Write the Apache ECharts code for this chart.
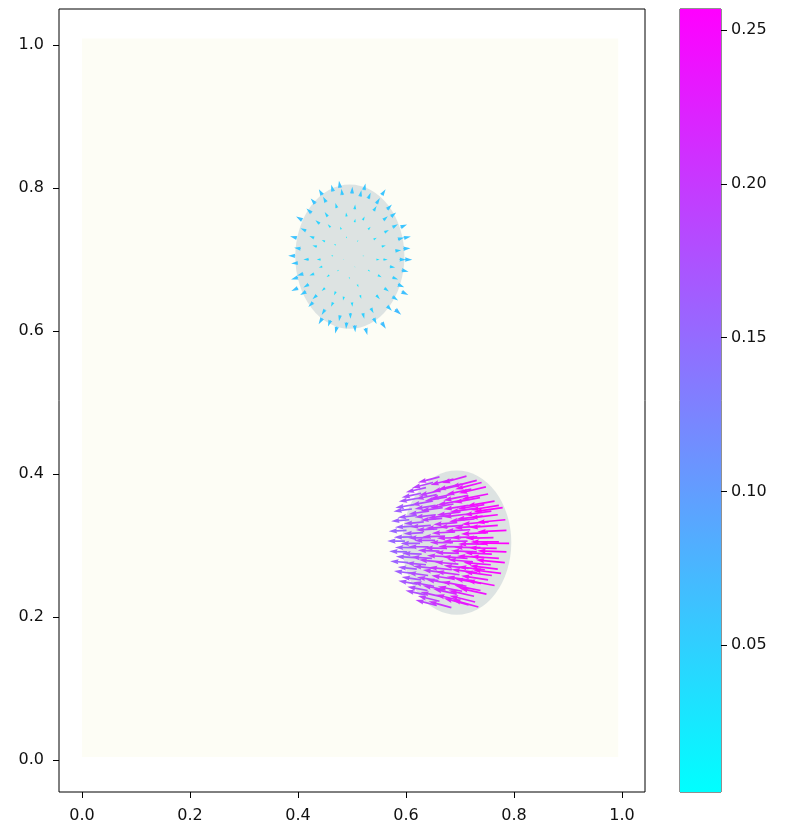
<!DOCTYPE html>
<html>
<head>
<meta charset="utf-8">
<script src="https://cdn.jsdelivr.net/npm/echarts@6/dist/echarts.min.js"></script>
<style>
  html, body { margin: 0; padding: 0; background: #fff; }
  #chart { width: 786px; height: 826px; }
</style>
</head>
<body>
<div id="chart"></div>
<script>
// axes ticks
var xTicks = [0, 0.2, 0.4, 0.6, 0.8, 1.0];
var yTicks = [0, 0.2, 0.4, 0.6, 0.8, 1.0];
var cbTicks = [0.05, 0.10, 0.15, 0.20, 0.25];
var cbRange = [0.0023, 0.2568];

// particle domain [x0, y0, x1, y1] and the two discs [cx, cy, r]
var domain = [[0, 0.004, 0.993, 1.009]];
var discs = [[0.496, 0.704, 0.101], [0.694, 0.304, 0.101]];

// arrows [x, y, u, v] - upper disc (slow, radial)
var arrowsUpper = [
  [0.465, 0.795, -0.016, 0.058], [0.482, 0.790, -0.008, 0.056], [0.500, 0.792, 0.003, 0.060],
  [0.515, 0.788, 0.011, 0.055], [0.530, 0.785, 0.021, 0.052], [0.545, 0.778, 0.031, 0.049],
  [0.452, 0.780, -0.026, 0.049], [0.472, 0.772, -0.013, 0.044], [0.505, 0.770, 0.004, 0.043],
  [0.540, 0.768, 0.026, 0.042], [0.425, 0.765, -0.044, 0.039], [0.440, 0.750, -0.036, 0.031],
  [0.415, 0.740, -0.049, 0.023], [0.460, 0.745, -0.023, 0.026], [0.558, 0.755, 0.039, 0.034],
  [0.575, 0.745, 0.047, 0.026], [0.585, 0.728, 0.055, 0.016], [0.530, 0.742, 0.021, 0.023],
  [0.520, 0.755, 0.016, 0.032], [0.405, 0.715, -0.057, 0.008], [0.400, 0.695, -0.060, -0.005],
  [0.410, 0.680, -0.055, -0.016], [0.420, 0.700, -0.047, 0.000], [0.435, 0.718, -0.039, 0.010],
  [0.445, 0.690, -0.031, -0.008], [0.588, 0.700, 0.057, -0.003], [0.592, 0.685, 0.060, -0.013],
  [0.580, 0.712, 0.052, 0.006], [0.570, 0.690, 0.047, -0.008], [0.555, 0.718, 0.036, 0.009],
  [0.545, 0.700, 0.029, -0.003], [0.470, 0.720, -0.016, 0.010], [0.490, 0.730, -0.004, 0.016],
  [0.510, 0.725, 0.008, 0.013], [0.485, 0.700, -0.007, -0.002], [0.505, 0.690, 0.005, -0.008],
  [0.520, 0.705, 0.013, 0.000], [0.475, 0.685, -0.013, -0.010], [0.495, 0.675, 0.000, -0.017],
  [0.530, 0.685, 0.018, -0.012], [0.420, 0.665, -0.047, -0.026], [0.435, 0.650, -0.039, -0.034],
  [0.415, 0.655, -0.052, -0.029], [0.450, 0.660, -0.029, -0.026], [0.560, 0.660, 0.039, -0.029],
  [0.575, 0.648, 0.049, -0.034], [0.585, 0.665, 0.055, -0.023], [0.545, 0.650, 0.031, -0.034],
  [0.565, 0.635, 0.042, -0.042], [0.450, 0.630, -0.029, -0.047], [0.465, 0.640, -0.018, -0.039],
  [0.478, 0.622, -0.010, -0.052], [0.490, 0.612, -0.005, -0.057], [0.505, 0.608, 0.005, -0.060],
  [0.520, 0.625, 0.013, -0.049], [0.535, 0.632, 0.023, -0.044], [0.500, 0.640, 0.003, -0.039],
  [0.485, 0.648, -0.008, -0.034], [0.515, 0.650, 0.010, -0.031], [0.540, 0.618, 0.026, -0.052],
  [0.460, 0.615, -0.021, -0.055], [0.490, 0.760, -0.005, 0.036], [0.455, 0.760, -0.026, 0.039],
  [0.565, 0.770, 0.042, 0.042], [0.430, 0.730, -0.042, 0.018], [0.595, 0.715, 0.062, 0.005],
  [0.400, 0.675, -0.060, -0.018], [0.575, 0.675, 0.049, -0.018], [0.430, 0.680, -0.042, -0.016],
  [0.470, 0.655, -0.016, -0.031], [0.478, 0.800, -0.010, 0.062], [0.522, 0.797, 0.014, 0.058],
  [0.445, 0.790, -0.030, 0.052], [0.555, 0.790, 0.034, 0.050], [0.432, 0.778, -0.040, 0.046],
  [0.572, 0.760, 0.046, 0.036], [0.408, 0.755, -0.054, 0.032], [0.590, 0.745, 0.056, 0.024],
  [0.398, 0.730, -0.060, 0.016], [0.596, 0.730, 0.061, 0.014], [0.450, 0.725, -0.028, 0.014],
  [0.540, 0.728, 0.027, 0.015], [0.465, 0.705, -0.019, 0.001], [0.558, 0.700, 0.038, -0.002],
  [0.395, 0.705, -0.062, 0.001], [0.598, 0.700, 0.064, -0.002], [0.400, 0.660, -0.058, -0.026],
  [0.592, 0.655, 0.058, -0.030], [0.428, 0.640, -0.042, -0.040], [0.580, 0.630, 0.052, -0.046],
  [0.445, 0.618, -0.032, -0.054], [0.555, 0.612, 0.036, -0.056], [0.472, 0.606, -0.015, -0.060],
  [0.525, 0.604, 0.016, -0.061], [0.497, 0.625, 0.001, -0.050], [0.510, 0.665, 0.009, -0.024],
  [0.458, 0.678, -0.024, -0.016], [0.548, 0.678, 0.032, -0.017], [0.480, 0.742, -0.010, 0.024],
  [0.505, 0.752, 0.005, 0.030], [0.442, 0.700, -0.034, -0.001], [0.560, 0.738, 0.040, 0.021]
];

// arrows [x, y, u, v] - lower disc (fast, moving left)
var arrowsLower = [
  [0.662, 0.396, -0.188, -0.050], [0.688, 0.393, -0.201, -0.052], [0.712, 0.397, -0.214, -0.060],
  [0.731, 0.391, -0.224, -0.057], [0.650, 0.388, -0.182, -0.047], [0.703, 0.386, -0.209, -0.050],
  [0.740, 0.388, -0.230, -0.058], [0.637, 0.381, -0.175, -0.041], [0.664, 0.377, -0.189, -0.044],
  [0.692, 0.383, -0.204, -0.049], [0.721, 0.379, -0.219, -0.049], [0.748, 0.382, -0.234, -0.056],
  [0.628, 0.373, -0.170, -0.036], [0.657, 0.371, -0.185, -0.038], [0.688, 0.372, -0.202, -0.042],
  [0.715, 0.370, -0.216, -0.044], [0.752, 0.372, -0.236, -0.047], [0.622, 0.366, -0.167, -0.029],
  [0.648, 0.362, -0.180, -0.034], [0.676, 0.368, -0.195, -0.036], [0.703, 0.363, -0.210, -0.037],
  [0.737, 0.367, -0.228, -0.043], [0.764, 0.362, -0.242, -0.042], [0.615, 0.357, -0.163, -0.026],
  [0.655, 0.356, -0.184, -0.030], [0.688, 0.358, -0.202, -0.033], [0.716, 0.356, -0.217, -0.034],
  [0.745, 0.357, -0.232, -0.037], [0.772, 0.356, -0.247, -0.039], [0.611, 0.351, -0.161, -0.021],
  [0.642, 0.348, -0.177, -0.026], [0.668, 0.353, -0.191, -0.028], [0.701, 0.347, -0.208, -0.028],
  [0.729, 0.352, -0.223, -0.033], [0.758, 0.348, -0.239, -0.033], [0.779, 0.353, -0.250, -0.036],
  [0.620, 0.342, -0.166, -0.019], [0.655, 0.343, -0.184, -0.022], [0.682, 0.342, -0.198, -0.023],
  [0.715, 0.344, -0.216, -0.026], [0.742, 0.341, -0.231, -0.026], [0.770, 0.343, -0.246, -0.029],
  [0.606, 0.336, -0.158, -0.013], [0.633, 0.333, -0.173, -0.017], [0.667, 0.338, -0.190, -0.018],
  [0.694, 0.332, -0.204, -0.017], [0.727, 0.337, -0.222, -0.021], [0.753, 0.333, -0.236, -0.020],
  [0.784, 0.336, -0.252, -0.024], [0.614, 0.327, -0.162, -0.010], [0.646, 0.328, -0.180, -0.013],
  [0.678, 0.326, -0.196, -0.013], [0.706, 0.328, -0.211, -0.015], [0.738, 0.327, -0.229, -0.016],
  [0.770, 0.328, -0.245, -0.018], [0.601, 0.321, -0.155, -0.007], [0.632, 0.318, -0.172, -0.010],
  [0.658, 0.323, -0.186, -0.009], [0.691, 0.319, -0.204, -0.011], [0.719, 0.322, -0.218, -0.010],
  [0.752, 0.318, -0.236, -0.013], [0.786, 0.321, -0.253, -0.012], [0.612, 0.312, -0.162, -0.004],
  [0.642, 0.311, -0.178, -0.004], [0.672, 0.313, -0.194, -0.005], [0.702, 0.311, -0.210, -0.005],
  [0.732, 0.312, -0.226, -0.006], [0.762, 0.311, -0.242, -0.006], [0.598, 0.306, -0.154, 0.001],
  [0.626, 0.303, -0.169, -0.001], [0.654, 0.307, -0.183, 0.000], [0.687, 0.304, -0.201, 0.001],
  [0.714, 0.306, -0.215, -0.001], [0.746, 0.302, -0.233, 0.001], [0.772, 0.305, -0.247, 0.000],
  [0.791, 0.303, -0.256, 0.001], [0.614, 0.297, -0.163, 0.002], [0.642, 0.298, -0.178, 0.002],
  [0.676, 0.296, -0.196, 0.003], [0.705, 0.298, -0.212, 0.003], [0.738, 0.297, -0.229, 0.003],
  [0.768, 0.296, -0.245, 0.004], [0.602, 0.291, -0.156, 0.005], [0.629, 0.288, -0.170, 0.007],
  [0.662, 0.292, -0.188, 0.008], [0.698, 0.289, -0.207, 0.007], [0.731, 0.291, -0.225, 0.009],
  [0.759, 0.288, -0.239, 0.011], [0.786, 0.291, -0.253, 0.010], [0.616, 0.283, -0.164, 0.010],
  [0.648, 0.282, -0.181, 0.011], [0.681, 0.284, -0.199, 0.012], [0.714, 0.282, -0.217, 0.014],
  [0.744, 0.283, -0.233, 0.015], [0.772, 0.282, -0.247, 0.016], [0.604, 0.276, -0.157, 0.013],
  [0.637, 0.273, -0.175, 0.016], [0.664, 0.277, -0.189, 0.018], [0.697, 0.274, -0.206, 0.017],
  [0.724, 0.277, -0.220, 0.021], [0.757, 0.273, -0.238, 0.020], [0.783, 0.276, -0.252, 0.024],
  [0.620, 0.267, -0.166, 0.017], [0.652, 0.268, -0.183, 0.019], [0.685, 0.266, -0.201, 0.022],
  [0.716, 0.268, -0.217, 0.024], [0.746, 0.266, -0.233, 0.026], [0.770, 0.267, -0.245, 0.028],
  [0.612, 0.261, -0.161, 0.020], [0.641, 0.258, -0.177, 0.024], [0.672, 0.262, -0.193, 0.024],
  [0.699, 0.259, -0.207, 0.028], [0.732, 0.262, -0.225, 0.028], [0.759, 0.258, -0.239, 0.032],
  [0.776, 0.261, -0.248, 0.031], [0.628, 0.252, -0.170, 0.024], [0.660, 0.251, -0.187, 0.028],
  [0.690, 0.253, -0.202, 0.030], [0.722, 0.251, -0.219, 0.033], [0.752, 0.252, -0.235, 0.036],
  [0.621, 0.246, -0.166, 0.029], [0.652, 0.243, -0.182, 0.034], [0.679, 0.247, -0.196, 0.034],
  [0.712, 0.243, -0.214, 0.039], [0.739, 0.247, -0.228, 0.040], [0.764, 0.244, -0.242, 0.045],
  [0.640, 0.237, -0.177, 0.033], [0.672, 0.238, -0.194, 0.037], [0.704, 0.236, -0.211, 0.041],
  [0.738, 0.237, -0.228, 0.045], [0.636, 0.231, -0.174, 0.037], [0.667, 0.228, -0.190, 0.043],
  [0.694, 0.232, -0.204, 0.044], [0.726, 0.229, -0.221, 0.050], [0.749, 0.232, -0.234, 0.051],
  [0.662, 0.222, -0.188, 0.046], [0.700, 0.223, -0.208, 0.051], [0.728, 0.221, -0.222, 0.055],
  [0.657, 0.216, -0.185, 0.049], [0.684, 0.213, -0.199, 0.055], [0.716, 0.217, -0.216, 0.057],
  [0.734, 0.214, -0.226, 0.062]
];

var pxPerUnit = 115;   // quiver scale, pixels per velocity unit
var shaftW = 1.7;      // arrow width in px

var arrowData = arrowsUpper.concat(arrowsLower).map(function (a) {
  return [a[0], a[1], a[2], a[3], Math.sqrt(a[2] * a[2] + a[3] * a[3])];
});

function renderArrow(params, api) {
  var p = api.coord([api.value(0), api.value(1)]);
  var dx = api.value(2) * pxPerUnit;
  var dy = -api.value(3) * pxPerUnit;
  var L = Math.sqrt(dx * dx + dy * dy);
  if (L < 0.3) return;
  var ux = dx / L, uy = dy / L, nx = -uy, ny = ux;
  var hl = 5 * shaftW, hal = 4.5 * shaftW, hw = 1.5 * shaftW, sw = 0.5 * shaftW;
  var Le = L, f = 1;
  if (L < hl) { f = L / hl; Le = hl; }   // short arrows are shrunk as a whole
  var pts = [[0, -sw], [Le - hal, -sw], [Le - hl, -hw], [Le, 0], [Le - hl, hw], [Le - hal, sw], [0, sw]];
  var out = pts.map(function (q) {
    var a = q[0] * f, b = q[1] * f;
    return [p[0] + ux * a + nx * b, p[1] + uy * a + ny * b];
  });
  return { type: 'polygon', shape: { points: out }, style: { fill: api.visual('color') } };
}

var chart = echarts.init(document.getElementById('chart'));
var font = 'DejaVu Sans';
var tickStyle = { show: true, length: 6, lineStyle: { color: '#000', width: 1 } };

var option = {
  animation: false,
  grid: [
    { left: 59, top: 9, width: 586, height: 783, show: true, borderColor: '#000', borderWidth: 1, backgroundColor: 'transparent' },
    { left: 680, top: 9, width: 41, height: 783, show: true, borderColor: '#222', borderWidth: 1, backgroundColor: 'transparent' }
  ],
  xAxis: [
    {
      type: 'value', gridIndex: 0, min: -0.0426, max: 1.0426,
      axisLine: { show: false, onZero: false },
      splitLine: { show: false },
      axisTick: Object.assign({ customValues: xTicks }, tickStyle),
      axisLabel: { customValues: xTicks, margin: 16, color: '#111', fontFamily: font, fontSize: 16,
        formatter: function (v) { return v.toFixed(1); } }
    },
    { type: 'value', gridIndex: 1, min: 0, max: 1, show: false }
  ],
  yAxis: [
    {
      type: 'value', gridIndex: 0, min: -0.0448, max: 1.0503,
      axisLine: { show: false, onZero: false },
      splitLine: { show: false },
      axisTick: Object.assign({ customValues: yTicks }, tickStyle),
      axisLabel: { customValues: yTicks, margin: 15, color: '#111', fontFamily: font, fontSize: 16,
        formatter: function (v) { return v.toFixed(1); } }
    },
    {
      type: 'value', gridIndex: 1, min: cbRange[0], max: cbRange[1], position: 'right',
      axisLine: { show: false, onZero: false },
      splitLine: { show: false },
      axisTick: Object.assign({ customValues: cbTicks }, tickStyle),
      axisLabel: { customValues: cbTicks, margin: 10, color: '#111', fontFamily: font, fontSize: 16,
        formatter: function (v) { return v.toFixed(2); } }
    }
  ],
  visualMap: {
    type: 'continuous', show: false, seriesIndex: 2, dimension: 4,
    min: cbRange[0], max: cbRange[1],
    inRange: { color: ['#00ffff', '#ff00ff'] }
  },
  series: [
    {
      type: 'custom', xAxisIndex: 0, yAxisIndex: 0, silent: true,
      data: domain,
      renderItem: function (params, api) {
        var a = api.coord([api.value(0), api.value(3)]);
        var b = api.coord([api.value(2), api.value(1)]);
        return { type: 'rect', shape: { x: a[0], y: a[1], width: b[0] - a[0], height: b[1] - a[1] },
          style: { fill: '#fdfdf5' } };
      }
    },
    {
      type: 'custom', xAxisIndex: 0, yAxisIndex: 0, silent: true,
      data: discs,
      renderItem: function (params, api) {
        var c = api.coord([api.value(0), api.value(1)]);
        var s = api.size([api.value(2), api.value(2)]);
        return { type: 'circle', x: c[0], y: c[1], scaleX: s[0], scaleY: s[1],
          shape: { cx: 0, cy: 0, r: 1 }, style: { fill: '#dde3e2' } };
      }
    },
    {
      type: 'custom', xAxisIndex: 0, yAxisIndex: 0, silent: true,
      data: arrowData,
      renderItem: renderArrow
    },
    {
      type: 'custom', xAxisIndex: 1, yAxisIndex: 1, silent: true,
      data: [[0, cbRange[0], 1, cbRange[1]]],
      renderItem: function (params, api) {
        var a = api.coord([api.value(0), api.value(3)]);
        var b = api.coord([api.value(2), api.value(1)]);
        return { type: 'rect', shape: { x: a[0], y: a[1], width: b[0] - a[0], height: b[1] - a[1] },
          style: { fill: new echarts.graphic.LinearGradient(0, 0, 0, 1, [
            { offset: 0, color: '#ff00ff' }, { offset: 1, color: '#00ffff' }]) } };
      }
    }
  ]
};

chart.setOption(option);
window.addEventListener('resize', function () { chart.resize(); });
</script>
</body>
</html>
